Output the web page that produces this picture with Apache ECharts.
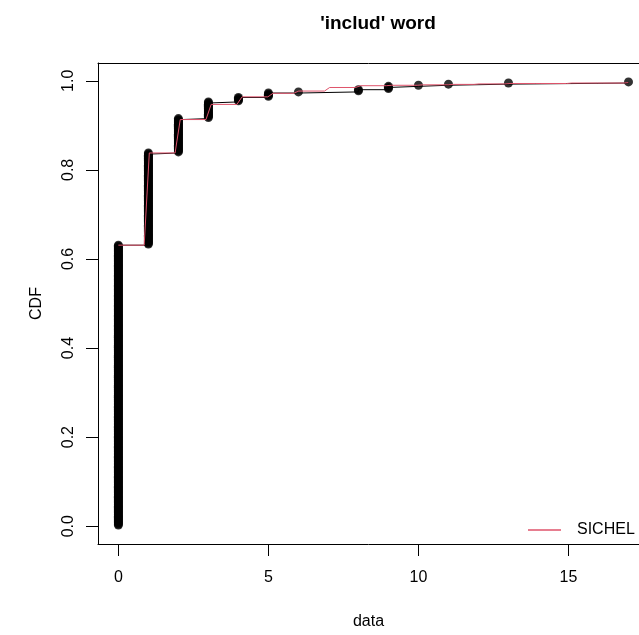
<!DOCTYPE html>
<html>
<head>
<meta charset="utf-8">
<script src="https://cdn.jsdelivr.net/npm/echarts@6/dist/echarts.min.js"></script>
<style>
html,body{margin:0;padding:0;background:#fff;}
#chart{width:639px;height:635px;}
</style>
</head>
<body>
<div id="chart"></div>
<script>
// Observed data values and how many observations share each value
var dataValues = [0, 1, 2, 3, 4, 5, 6, 8, 9, 10, 11, 13, 17];
var dataCounts = [253, 83, 31, 15, 4, 4, 1, 2, 3, 1, 1, 1, 1];

// Fitted SICHEL CDF line (vertices)
var sichelX = [0, 0.859, 1.030, 1.889, 2.061, 2.919, 3.091, 3.949, 4.121, 4.980, 5.152,
               5.838, 6.010, 6.869, 7.040, 7.899, 8.071, 8.929, 9.101, 9.960, 10.131,
               10.990, 11.162, 11.848, 12.020, 12.879, 13.051, 13.909, 14.081, 14.939,
               15.111, 15.970, 16.141, 16.828, 17];
var sichelY = [0.631, 0.631, 0.838, 0.838, 0.913, 0.913, 0.947, 0.947, 0.964, 0.964, 0.972,
               0.972, 0.977, 0.977, 0.985, 0.985, 0.989, 0.989, 0.990, 0.990, 0.991,
               0.991, 0.992, 0.992, 0.993, 0.993, 0.994, 0.994, 0.994, 0.994,
               0.995, 0.995, 0.995, 0.995, 0.996];

var xTicks = [0, 5, 10, 15];
var yTicks = [0, 0.2, 0.4, 0.6, 0.8, 1.0];

var titleText = "'includ' word";
var xName = 'data';
var yName = 'CDF';
var legendName = 'SICHEL';

// empirical CDF points built from counts
var total = dataCounts.reduce(function (a, b) { return a + b; }, 0);
var ecdfPts = [];
var idx = 0;
for (var i = 0; i < dataValues.length; i++) {
  for (var k = 0; k < dataCounts[i]; k++) {
    idx++;
    ecdfPts.push([dataValues[i], idx / (total + 1)]);
  }
}
var sichelPts = sichelX.map(function (x, j) { return [x, sichelY[j]]; });

var FONT = "'Liberation Sans', Arial, Helvetica, sans-serif";
var XMIN = -0.68, XMAX = 17.35;
var chart = echarts.init(document.getElementById('chart'), null, {renderer: 'canvas'});
chart.setOption({
  animation: false,
  backgroundColor: '#ffffff',
  textStyle: {fontFamily: FONT},
  title: {
    text: titleText,
    left: 373, top: 9, textAlign: 'center',
    textStyle: {fontFamily: FONT, fontSize: 19, fontWeight: 'bold', color: '#000'}
  },
  grid: {
    left: 98, top: 63, width: 541, height: 486,
    show: false, containLabel: false
  },
  legend: {
    data: [{name: legendName, icon: 'rect'}],
    left: 528, top: 522, padding: 0,
    itemWidth: 33, itemHeight: 1.5,
    textStyle: {fontFamily: FONT, fontSize: 16, color: '#000', padding: [0, 0, 0, 11]}
  },
  xAxis: [{
    type: 'value', min: XMIN, max: XMAX, position: 'bottom',
    name: xName, nameLocation: 'middle', nameGap: 70,
    nameTextStyle: {fontFamily: FONT, fontSize: 16, color: '#000'},
    splitLine: {show: false},
    axisLine: {show: true, onZero: false, lineStyle: {color: '#000', width: 1}},
    axisTick: {show: true, customValues: xTicks, length: 12, inside: false, lineStyle: {color: '#000', width: 1}},
    axisLabel: {customValues: xTicks, margin: 26, fontFamily: FONT, fontSize: 16, color: '#000',
      formatter: function (v) { return String(v); }}
  }, {
    type: 'value', min: XMIN, max: XMAX, position: 'top',
    splitLine: {show: false},
    axisLine: {show: true, onZero: false, lineStyle: {color: '#000', width: 1}},
    axisTick: {show: false}, axisLabel: {show: false}
  }],
  yAxis: {
    type: 'value', min: -0.04, max: 1.04,
    name: yName, nameLocation: 'middle', nameGap: 53, nameRotate: 90,
    nameTextStyle: {fontFamily: FONT, fontSize: 16, color: '#000'},
    splitLine: {show: false},
    axisLine: {show: true, onZero: false, lineStyle: {color: '#000', width: 1}},
    axisTick: {show: true, customValues: yTicks, length: 12, inside: false, lineStyle: {color: '#000', width: 1}},
    axisLabel: {customValues: yTicks, margin: 21, rotate: 90, fontFamily: FONT, fontSize: 16, color: '#000',
      formatter: function (v) { return v.toFixed(1); }}
  },
  series: [
    {
      name: 'points', type: 'scatter', data: ecdfPts,
      symbol: 'circle', symbolSize: 9,
      itemStyle: {color: '#000'}, silent: true, z: 2
    },
    {
      name: 'ecdf', type: 'line', data: ecdfPts, step: 'end',
      showSymbol: false, symbol: 'none',
      lineStyle: {color: '#000', width: 1}, itemStyle: {color: '#000'}, silent: true, z: 3
    },
    {
      name: legendName, type: 'line', data: sichelPts,
      showSymbol: false, symbol: 'none',
      lineStyle: {color: '#DF536B', width: 1}, itemStyle: {color: '#DF536B'}, color: '#DF536B', silent: true, z: 4
    }
  ]
});
</script>
</body>
</html>
